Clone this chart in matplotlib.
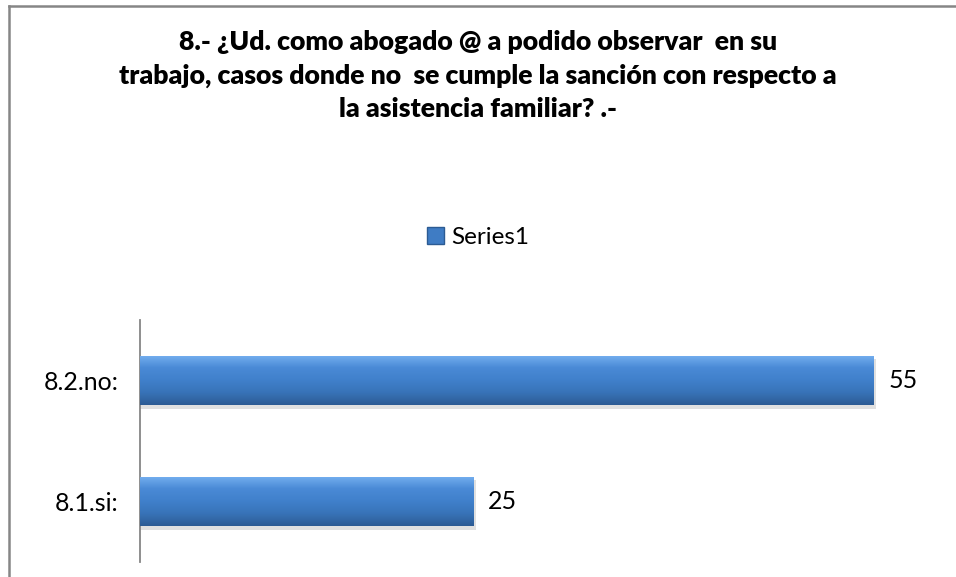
import numpy as np
import matplotlib
matplotlib.use("Agg")
import matplotlib.pyplot as plt
from matplotlib.lines import Line2D
from matplotlib.patches import Rectangle

plt.rcParams['font.family'] = ['Lato', 'DejaVu Sans']

categorias = ['8.1.si:', '8.2.no:']
valores = [25, 55]
serie = 'Series1'
titulo = ('8.- ¿Ud. como abogado @ a podido observar  en su\n'
          'trabajo, casos donde no  se cumple la sanción con respecto a\n'
          'la asistencia familiar? .-')

fig = plt.figure(figsize=(9.56, 5.77), dpi=100)
ax = fig.add_axes([0.146, 0.026, 0.837, 0.4194])

# gradiente azul para las barras
grad = np.linspace(0, 1, 256).reshape(-1, 1)
cmap = matplotlib.colors.LinearSegmentedColormap.from_list(
    'barra', ['#2c5b93', '#3873b8', '#4080cb', '#4a8ad6', '#75b0f0'])

y = np.arange(len(categorias))
barras = ax.barh(y, valores, height=0.41, color='#3f7cc4', edgecolor='none',
                 label=serie, zorder=2)

for b in barras:
    x0, y0 = b.get_x(), b.get_y()
    w, h = b.get_width(), b.get_height()
    # sombra
    ax.add_patch(Rectangle((x0, y0 - 0.03), w + 0.25, h, color='#000000',
                           alpha=0.12, lw=0, zorder=1))
    im = ax.imshow(grad, extent=(x0, x0 + w, y0, y0 + h), cmap=cmap,
                   aspect='auto', origin='lower', zorder=3)
    im.set_clip_path(b)

ax.bar_label(barras, labels=[str(v) for v in valores], padding=11,
             fontsize=18, color='#000000')

ax.set_xlim(0, 60)
ax.set_ylim(-0.5, 1.5)
ax.set_yticks(y)
ax.set_yticklabels(categorias, fontsize=18)
ax.tick_params(axis='y', length=0, pad=15)
ax.set_xticks([])
for lado in ['top', 'right', 'bottom']:
    ax.spines[lado].set_visible(False)
ax.spines['left'].set_color('#868686')
ax.spines['left'].set_linewidth(1.3)

fig.text(0.5, 0.948, titulo, ha='center', va='top', fontsize=19.2,
         fontweight='heavy', linespacing=1.47)

leg = fig.legend(handles=[Rectangle((0, 0), 1, 1, facecolor='#3f7cc4',
                                    edgecolor='#2c5b93')],
                 labels=[serie], loc='center', bbox_to_anchor=(0.5, 0.589),
                 frameon=False, fontsize=17.5, handlelength=0.7,
                 handleheight=0.7, handletextpad=0.3)

# borde del grafico
fig.add_artist(Line2D([0.009, 1.0], [0.990, 0.990], color='#868686', lw=1.8))
fig.add_artist(Line2D([0.009, 0.009], [0.0, 0.990], color='#868686', lw=1.8))

fig.savefig('out.png', dpi=100)
